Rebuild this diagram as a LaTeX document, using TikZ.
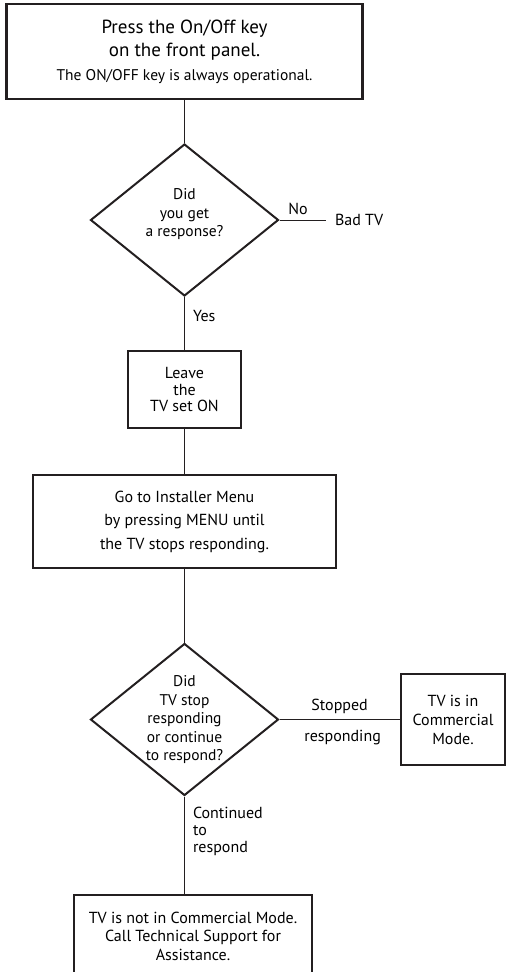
\documentclass[tikz,border=0pt]{standalone}
\usepackage{fontspec}
\setmainfont{PT Sans}
\usetikzlibrary{shapes.geometric}

\begin{document}
\begin{tikzpicture}[x=1pt,y=-1pt,
  stepbox/.style={draw=inkDark, line width=2.6pt, rectangle, align=center,
    inner sep=0pt, font=\fontsize{16}{23.5}\selectfont},
  askbox/.style={draw=inkDark, line width=2pt, diamond, aspect=1.24,
    minimum width=188, minimum height=152, inner sep=0pt},
  asktext/.style={align=center, inner sep=0pt, font=\fontsize{15.5}{18.5}\selectfont},
  wire/.style={draw=inkDark, line width=1pt},
  tag/.style={font=\fontsize{16}{17}\selectfont, inner sep=0pt, align=left}]

% Colori
\definecolor{inkDark}{HTML}{231F20}

\useasboundingbox (0,0) rectangle (506,972);

% Blocchi
\node[stepbox, minimum width=356, minimum height=95] (press) at (184.5,51.5)
  {{\fontsize{19}{23}\selectfont Press the On/Off key}\\
   {\fontsize{19}{22}\selectfont on the front panel.}\\
   {\fontsize{15.5}{22}\selectfont The ON/OFF key is always operational.}};

\node[askbox] (resp) at (184.5,220) {};
\node[asktext] (respq) at (184.5,214.5) {Did\\you get\\a response?};

\node[tag, outer xsep=9pt, anchor=west] (badtv) at (326,220) {Bad TV};

\node[stepbox, font=\fontsize{16}{16.5}\selectfont, minimum width=113, minimum height=77] (leave) at (184.5,389.5)
  {Leave\\the\\TV set ON};

\node[stepbox, minimum width=303, minimum height=93] (menu) at (184.5,521.5)
  {Go to Installer Menu\\by pressing MENU until\\the TV stops responding.};

\node[askbox] (stop) at (184.5,719.5) {};
\node[asktext] (stopq) at (184.5,720)
  {Did\\TV stop\\responding\\or continue\\to respond?};

\node[stepbox, font=\fontsize{16}{19}\selectfont, minimum width=104, minimum height=91] (commode) at (453,719.5)
  {TV is in\\Commercial\\Mode.};

\node[stepbox, font=\fontsize{16}{18.5}\selectfont, minimum width=238, minimum height=82] (support) at (193,936)
  {TV is not in Commercial Mode.\\Call Technical Support for\\Assistance.};

% Collegamenti
\draw[wire] (press.south) -- (resp.north);
\draw[wire] (resp.east) -- node[tag, above=5pt, pos=0.4] (notag) {No} (badtv.west);
\draw[wire] (resp.south) -- node[tag, anchor=west, pos=0.36, xshift=8pt] (yestag) {Yes} (leave.north);
\draw[wire] (leave.south) -- (menu.north);
\draw[wire] (menu.south) -- (stop.north);
\draw[wire] (stop.east) -- node[tag, above=5pt] (stoptag) {Stopped}
  node[tag, below=10pt, xshift=3pt] (resptag) {responding} (commode.west);
\draw[wire] (stop.south) -- node[tag, anchor=west, pos=0.36, xshift=8pt] (conttag) {Continued\\to\\respond} (stop.south |- support.north);

\end{tikzpicture}
\end{document}
